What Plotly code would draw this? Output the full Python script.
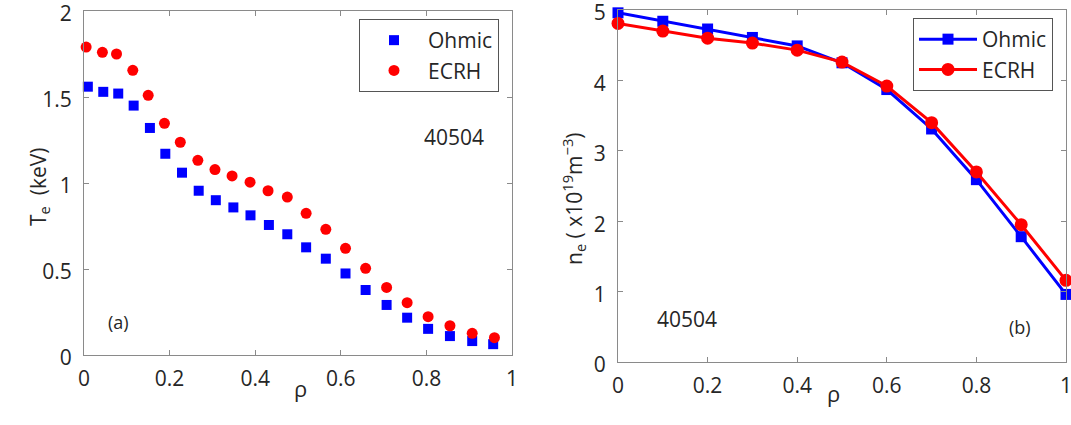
import plotly.graph_objects as go

# Electron temperature profiles, shot 40504
rho_ohmic_te = [0.009, 0.045, 0.080, 0.116, 0.154, 0.190, 0.229, 0.268, 0.308, 0.349, 0.389, 0.432,
                0.475, 0.519, 0.565, 0.611, 0.658, 0.707, 0.755, 0.804, 0.855, 0.907, 0.956]
te_ohmic = [1.56, 1.53, 1.52, 1.45, 1.32, 1.17, 1.06, 0.955, 0.90, 0.858, 0.812, 0.756,
            0.702, 0.626, 0.56, 0.474, 0.378, 0.291, 0.217, 0.152, 0.11, 0.081, 0.063]
rho_ecrh_te = [0.005, 0.043, 0.076, 0.114, 0.150, 0.188, 0.225, 0.266, 0.306, 0.346, 0.388, 0.430,
               0.475, 0.519, 0.565, 0.611, 0.658, 0.707, 0.755, 0.804, 0.855, 0.907, 0.959]
te_ecrh = [1.79, 1.76, 1.75, 1.655, 1.51, 1.347, 1.237, 1.132, 1.078, 1.041, 1.005, 0.955,
           0.918, 0.824, 0.731, 0.62, 0.504, 0.393, 0.304, 0.223, 0.17, 0.126, 0.101]

# Electron density profiles
rho_ne = [0.0, 0.1, 0.2, 0.3, 0.4, 0.5, 0.6, 0.7, 0.8, 0.9, 1.0]
ne_ohmic = [4.96, 4.84, 4.73, 4.61, 4.49, 4.25, 3.87, 3.31, 2.59, 1.78, 0.96]
ne_ecrh = [4.81, 4.70, 4.60, 4.53, 4.43, 4.26, 3.92, 3.40, 2.70, 1.95, 1.16]

x_ticks = [0, 0.2, 0.4, 0.6, 0.8, 1]
x_tick_text = ["0", "0.2", "0.4", "0.6", "0.8", "1"]
te_ticks = [0, 0.5, 1, 1.5, 2]
te_tick_text = ["0", "0.5", "1", "1.5", "2"]
ne_ticks = [0, 1, 2, 3, 4, 5]
ne_tick_text = ["0", "1", "2", "3", "4", "5"]

FONT = "Open Sans"
TXT = "#262626"
AX = "#8a8a8a"
BLUE = "#0000ff"
RED = "#ff0000"

fig = go.Figure()

fig.add_trace(go.Scatter(x=rho_ohmic_te, y=te_ohmic, mode="markers", name="Ohmic",
                         marker=dict(symbol="square", size=10, color=BLUE),
                         xaxis="x", yaxis="y", legend="legend", cliponaxis=False))
fig.add_trace(go.Scatter(x=rho_ecrh_te, y=te_ecrh, mode="markers", name="ECRH",
                         marker=dict(symbol="circle", size=11, color=RED),
                         xaxis="x", yaxis="y", legend="legend", cliponaxis=False))

fig.add_trace(go.Scatter(x=rho_ne, y=ne_ohmic, mode="lines+markers", name="Ohmic",
                         line=dict(color=BLUE, width=3),
                         marker=dict(symbol="square", size=11, color=BLUE),
                         xaxis="x2", yaxis="y2", legend="legend2", cliponaxis=False))
fig.add_trace(go.Scatter(x=rho_ne, y=ne_ecrh, mode="lines+markers", name="ECRH",
                         line=dict(color=RED, width=3),
                         marker=dict(symbol="circle", size=13, color=RED),
                         xaxis="x2", yaxis="y2", legend="legend2", cliponaxis=False))

W, H = 1071, 425


def px_x(p):
    return p / W


def px_y(p):
    return 1 - p / H


axis_common = dict(
    showline=True, linecolor=AX, linewidth=1, mirror="allticks",
    ticks="inside", ticklen=5, tickcolor=AX, tickwidth=1,
    showgrid=False, zeroline=False, automargin=False,
    ticklabeloverflow="allow",
    tickfont=dict(family=FONT, size=21, color=TXT),
)

legend_common = dict(
    xanchor="left", yanchor="top",
    bordercolor="#555555", borderwidth=1, bgcolor="white",
    font=dict(family=FONT, size=21, color=TXT), itemwidth=58,
    tracegroupgap=0,
)

fig.update_layout(
    width=W, height=H,
    margin=dict(l=0, r=0, t=0, b=0),
    paper_bgcolor="white", plot_bgcolor="white",
    template="none",
    font=dict(family=FONT, color=TXT),
    xaxis=dict(domain=[px_x(84), px_x(512)], range=[0, 1], anchor="y",
               tickvals=x_ticks, ticktext=x_tick_text, ticklabelstandoff=5, **axis_common),
    yaxis=dict(domain=[px_y(355), px_y(11)], range=[0, 2], anchor="x",
               tickvals=te_ticks, ticktext=te_tick_text, ticklabelstandoff=7,
               ticklabelshift=3, **axis_common),
    xaxis2=dict(domain=[px_x(618), px_x(1066)], range=[0, 1], anchor="y2",
                tickvals=x_ticks, ticktext=x_tick_text, ticklabelstandoff=5, **axis_common),
    yaxis2=dict(domain=[px_y(362), px_y(10)], range=[0, 5], anchor="x2",
                tickvals=ne_ticks, ticktext=ne_tick_text, ticklabelstandoff=7,
                ticklabelshift=3, **axis_common),
    legend=dict(x=px_x(359), y=px_y(19), **legend_common),
    legend2=dict(x=px_x(913), y=px_y(18), **legend_common),
    showlegend=True,
)

annotations = [
    dict(text="40504", x=0.865, y=1.27, xref="x", yref="y", showarrow=False,
         font=dict(family=FONT, size=21, color=TXT)),
    dict(text="(a)", x=0.08, y=0.19, xref="x", yref="y", showarrow=False,
         font=dict(family=FONT, size=18, color=TXT)),
    dict(text="40504", x=0.154, y=0.61, xref="x2", yref="y2", showarrow=False,
         font=dict(family=FONT, size=21, color=TXT)),
    dict(text="(b)", x=0.897, y=0.50, xref="x2", yref="y2", showarrow=False,
         font=dict(family=FONT, size=18, color=TXT)),
    # axis titles
    dict(text="ρ", x=px_x(292), y=px_y(405), xref="paper", yref="paper", showarrow=False,
         font=dict(family=FONT, size=22, color=TXT)),
    dict(text="ρ", x=px_x(842), y=px_y(410), xref="paper", yref="paper", showarrow=False,
         font=dict(family=FONT, size=22, color=TXT)),
    dict(text="T<sub>e</sub>  (keV)", x=px_x(22), y=px_y(187), xref="paper", yref="paper",
         showarrow=False, textangle=-90, font=dict(family=FONT, size=21, color=TXT)),
    dict(text="n<sub>e</sub> ( x10<sup>19</sup>m<sup>−3</sup>)", x=px_x(573), y=px_y(199),
         xref="paper", yref="paper", showarrow=False, textangle=-90,
         font=dict(family=FONT, size=21, color=TXT)),
]
fig.update_layout(annotations=annotations)

fig.write_html("out.html")
